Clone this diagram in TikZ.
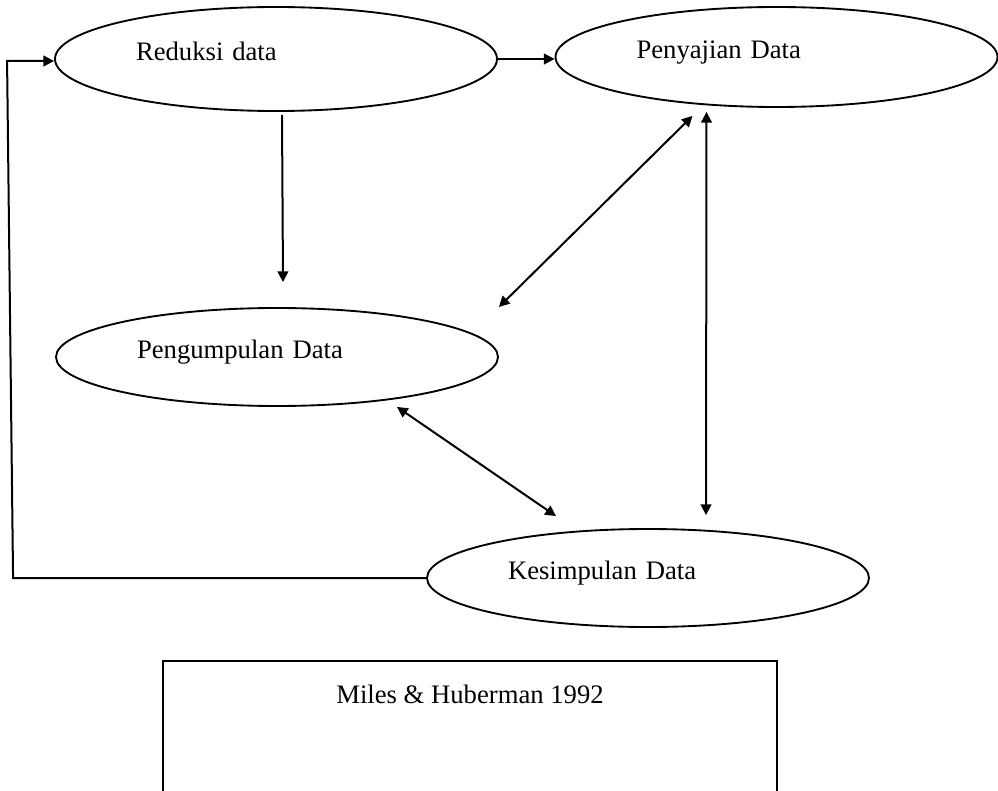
\documentclass[tikz,border=0pt]{standalone}
\usepackage{fontspec}
\setmainfont{Liberation Serif}
\usetikzlibrary{arrows.meta}
\usetikzlibrary{shapes.geometric}
\usetikzlibrary{calc}

\begin{document}
\begin{tikzpicture}[x=0.75pt, y=-0.75pt,
	proses/.style={ellipse, draw=black, line width=1.4pt, minimum width=331.5pt, minimum height=73.5pt,
		text width=210pt, align=left, inner sep=0pt, text height=14pt, text depth=12pt,
		font=\fontsize{20}{24}\selectfont},
	kotak/.style={draw=black, line width=1.4pt, minimum width=460.5pt, inner ysep=18pt,
		text height=14pt, text depth=120pt, font=\fontsize{20}{24}\selectfont},
	panah/.style={line width=1.5pt, -{Triangle[length=8pt, width=8pt]}},
	panahdua/.style={line width=1.5pt, {Triangle[length=8pt, width=8pt]}-{Triangle[length=8pt, width=8pt]}}]

	\useasboundingbox (0,0) rectangle (998,791);

	%tahap analisis
	\node[proses, minimum height=78pt] (red) at (276,59) {Reduksi data};
	\node[proses, minimum height=75pt] (pen) at (776.5,57) {Penyajian Data};
	\node[proses] (pg) at (277,357) {Pengumpulan Data};
	\node[proses] (ks) at (648,578) {Kesimpulan Data};

	%sumber
	\node[kotak, anchor=north] (sumber) at (470,660) {Miles \& Huberman 1992};

	%arus satu arah
	\draw[panah] (red.east) -- (red.east -| pen.west);
	\draw[panah] ($(red.south)+(6,3)$) -- ($(pg.north)+(6,-25)$);
	\draw[panah] (ks.west) -- ($(ks.west -| red.west)+(-41,0)$) -- ($(red.west)+(-47,2)$) -- ($(red.west)+(0,2)$);

	%arus dua arah
	\draw[panahdua] ($(pg.east)+(0,-50)$) -- ($(pen.south)+(-84,8)$);
	\draw[panahdua] ($(pen.south)+(-70,4)$) -- ($(ks.north)+(58,-13)$);
	\draw[panahdua] ($(pg.south)+(120,0)$) -- ($(ks.north)+(-92,-12)$);

\end{tikzpicture}
\end{document}
